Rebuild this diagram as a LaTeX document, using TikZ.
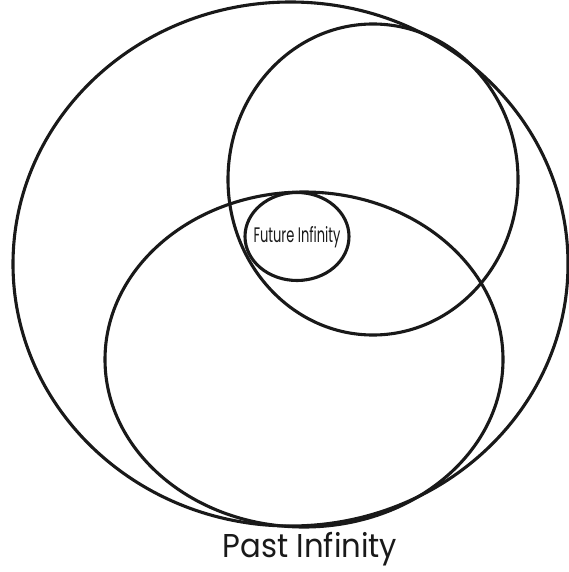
\documentclass[tikz,border=0pt]{standalone}
\usepackage{fontspec}
\setmainfont{Poppins}
\usetikzlibrary{shapes.geometric}
\tikzset{
  ring/.style={draw=black!90, line width=3.1pt},
  label/.style={inner sep=0pt, text=black!90}
}
\begin{document}
\begin{tikzpicture}[x=1pt,y=-1pt]
\useasboundingbox (0,0) rectangle (569,572);
% big outer ellipse
\draw[ring] (290.5,264) ellipse [x radius=277.5pt, y radius=262pt];
% upper-right circle
\draw[ring] (373,179.5) ellipse [x radius=145pt, y radius=155.5pt];
% lower ellipse
\draw[ring] (304,359.5) ellipse [x radius=199pt, y radius=167.5pt];
% small ellipse
\draw[ring] (297,236.5) ellipse [x radius=52pt, y radius=44pt];
\node[label] (future) at (297,237) {\scalebox{0.62}[1]{\fontsize{21}{21}\selectfont Future Infinity}};
\node[label] (past) at (310,549) {\scalebox{0.93}[1]{\fontsize{33}{33}\selectfont Past Infinity}};
\end{tikzpicture}
\end{document}
